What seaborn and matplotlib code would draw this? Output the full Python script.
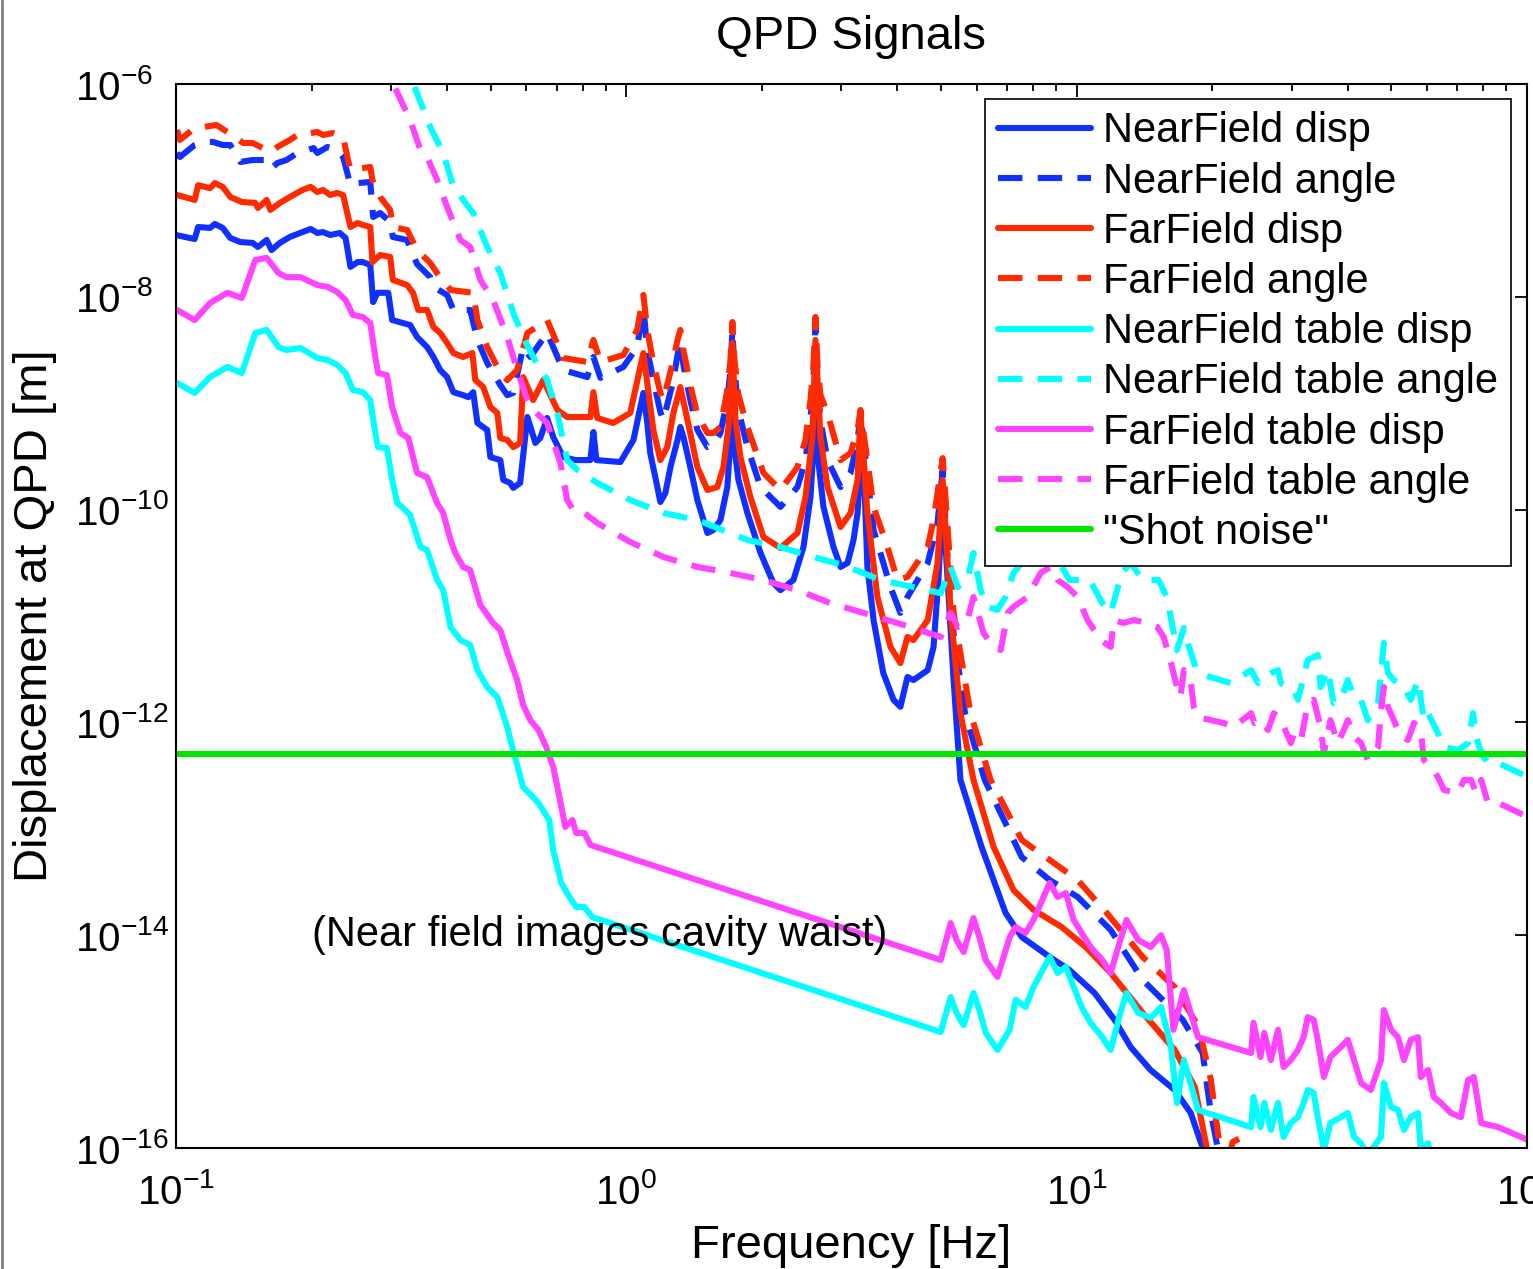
import numpy as np
import pandas as pd
import matplotlib
matplotlib.use("Agg")
import matplotlib.pyplot as plt
import seaborn as sns
from matplotlib.ticker import LogLocator, NullLocator, LogFormatterSciNotation, FixedLocator
from matplotlib.lines import Line2D

# ---------------- data ----------------
nf_disp_f = [0.100,0.110,0.112,0.119,0.122,0.127,0.132,0.139,0.148,0.152,0.159,0.163,0.170,0.179,0.191,0.199,0.206,0.212,0.220,0.231,0.238,0.244,0.253,0.260,0.270,0.274,0.280,0.296,0.302,0.319,0.331,0.343,0.361,0.373,0.386,0.400,0.413,0.434,0.446,0.457,0.467,0.491,0.499,0.525,0.533,0.552,0.561,0.581,0.603,0.628,0.644,0.667,0.688,0.724,0.771,0.832,0.845,0.858,0.970,1.037,
             1.091,1.113,1.130,1.172,1.190,1.221,1.253,1.299,1.318,1.339,1.387,1.438,1.514,1.561,1.618,1.676,1.703,1.720,1.729,1.774,1.857,1.986,2.121,2.199,2.350,2.474,2.564,2.604,2.630,2.657,2.740,2.884,2.990,3.099,3.195,3.262,3.345,
             3.43,3.54,3.72,3.92,4.06,4.21,4.34,4.67,4.81,4.93,5.04,5.17,5.33,5.52,6.15,6.95,7.55,8.71,9.64,10.96,12.14,13.18,14.59,16.51,17.92,19.05,19.86]
nf_disp_v = [3.81e-8,3.49e-8,4.53e-8,4.44e-8,4.83e-8,4.44e-8,3.57e-8,3.27e-8,3.21e-8,2.94e-8,3.42e-8,2.75e-8,3.21e-8,3.65e-8,4.06e-8,4.34e-8,3.98e-8,4.06e-8,3.81e-8,3.98e-8,3.57e-8,1.91e-8,2.12e-8,2.12e-8,1.99e-8,8.93e-9,1.09e-8,1.09e-8,6.05e-9,5.67e-9,5.43e-9,4.19e-9,3.37e-9,2.72e-9,2.05e-9,1.76e-9,1.27e-9,1.19e-9,1.14e-9,1.27e-9,6.52e-10,5.60e-10,3.12e-10,2.92e-10,1.90e-10,1.78e-10,1.60e-10,1.78e-10,7.41e-10,4.23e-10,4.71e-10,7.26e-10,4.81e-10,3.12e-10,2.92e-10,2.92e-10,5.36e-10,2.92e-10,2.80e-10,4.51e-10,
             1.25e-9,6.52e-10,3.40e-10,1.63e-10,1.18e-10,1.43e-10,2.51e-10,4.51e-10,5.97e-10,4.81e-10,2.51e-10,1.23e-10,6.03e-11,6.43e-11,7.98e-11,1.63e-10,4.51e-10,2.29e-9,4.51e-10,1.90e-10,9.29e-11,3.91e-11,2.04e-11,1.75e-11,2.18e-11,4.45e-11,1.31e-10,3.87e-10,2.29e-9,3.40e-10,1.06e-10,4.45e-11,2.89e-11,3.15e-11,5.18e-11,9.29e-11,5.60e-10,
             2.89e-11,9.16e-12,2.91e-12,1.63e-12,1.40e-12,2.67e-12,2.50e-12,3.10e-12,5.12e-12,2.18e-11,1.23e-10,2.18e-11,2.50e-12,2.88e-13,6.75e-14,1.62e-14,9.62e-15,6.24e-15,4.71e-15,2.86e-15,1.60e-15,8.89e-16,5.41e-16,3.51e-16,2.13e-16,1.00e-16,5.0e-17]

nf_angle_f = [0.1005,0.102,0.110,0.115,0.121,0.127,0.132,0.139,0.148,0.159,0.163,0.168,0.176,0.186,0.191,0.202,0.206,0.217,0.228,0.235,0.244,0.253,0.270,0.274,0.284,0.299,0.303,0.326,0.343,0.367,0.373,0.400,0.413,0.450,0.467,0.491,0.525,0.544,0.561,0.590,0.612,0.667,0.724,0.819,0.845,0.876,0.985,1.057,
              1.091,1.113,1.148,1.190,1.208,1.240,1.272,1.299,1.318,1.339,1.387,1.438,1.514,1.561,1.618,1.676,1.703,1.720,1.738,1.774,1.857,1.986,2.199,2.399,2.499,2.564,2.604,2.630,2.657,2.698,2.797,2.990,3.147,3.262,3.311,
              3.54,3.86,4.06,4.21,4.67,4.91,5.04,5.25,5.65,6.25,7.55,8.71,10.05,11.9,14.02,17.2,19.05,19.86,20.57,21.1]
nf_angle_v = [2.25e-7,2.06e-7,2.67e-7,2.85e-7,2.85e-7,2.67e-7,2.67e-7,1.85e-7,1.93e-7,1.93e-7,1.62e-7,1.81e-7,1.93e-7,2.25e-7,2.30e-7,2.50e-7,2.25e-7,2.56e-7,2.40e-7,2.06e-7,1.12e-7,1.17e-7,1.20e-7,5.62e-8,6.13e-8,5.05e-8,3.65e-8,3.42e-8,2.03e-8,1.53e-8,1.24e-8,1.04e-8,7.52e-9,7.52e-9,3.93e-9,2.39e-9,1.48e-9,1.19e-9,1.25e-9,3.37e-9,2.72e-9,4.57e-9,2.05e-9,1.76e-9,2.72e-9,1.73e-9,2.19e-9,3.37e-9,
              8.02e-9,3.16e-9,1.65e-9,8.26e-10,6.95e-10,1.07e-9,1.65e-9,2.84e-9,3.93e-9,2.29e-9,1.07e-9,5.60e-10,3.87e-10,4.05e-10,5.25e-10,1.07e-9,2.05e-9,4.88e-9,2.05e-9,8.63e-10,3.87e-10,1.63e-10,1.06e-10,1.63e-10,2.92e-10,6.95e-10,1.65e-9,5.79e-9,1.65e-9,6.95e-10,2.92e-10,1.63e-10,2.21e-10,4.51e-10,7.74e-10,
              6.43e-11,1.87e-11,1.07e-11,1.51e-11,3.15e-11,7.48e-11,2.36e-10,1.07e-11,1.22e-12,2.88e-13,5.43e-14,3.30e-14,2.29e-14,1.12e-14,3.79e-15,1.60e-15,7.82e-16,2.13e-16,1.0e-16,5.0e-17]

ff_disp_f = [0.1005,0.110,0.112,0.119,0.122,0.127,0.132,0.140,0.150,0.152,0.159,0.162,0.170,0.179,0.191,0.199,0.206,0.212,0.220,0.228,0.235,0.244,0.253,0.260,0.270,0.273,0.284,0.299,0.303,0.326,0.336,0.345,0.361,0.373,0.386,0.400,0.413,0.434,0.455,0.462,0.481,0.499,0.517,0.525,0.544,0.561,0.581,0.590,0.621,0.654,0.703,0.739,0.832,0.845,0.862,0.935,1.02,
             1.091,1.113,1.148,1.190,1.233,1.272,1.318,1.367,1.438,1.514,1.593,1.643,1.686,1.720,1.747,1.792,1.886,2.016,2.199,2.399,2.499,2.590,2.630,2.698,2.797,2.990,3.147,3.262,3.311,
             3.43,3.61,3.86,4.06,4.21,4.34,4.67,4.91,5.04,5.25,5.52,5.90,6.54,7.24,8.02,9.27,10.47,11.9,14.02,16.51,18.3,19.45,20.0]
ff_disp_v = [9.06e-8,8.13e-8,1.12e-7,1.05e-7,1.17e-7,1.08e-7,8.67e-8,7.78e-8,7.62e-8,6.84e-8,8.13e-8,6.55e-8,7.62e-8,8.67e-8,1.01e-7,1.08e-7,9.66e-8,1.01e-7,9.06e-8,9.46e-8,9.06e-8,4.53e-8,4.94e-8,4.73e-8,4.53e-8,2.12e-8,2.47e-8,2.37e-8,1.44e-8,1.29e-8,1.09e-8,7.52e-9,7.52e-9,5.20e-9,4.57e-9,3.68e-9,2.96e-9,2.72e-9,2.96e-9,1.65e-9,1.42e-9,9.20e-10,8.09e-10,4.71e-10,4.51e-10,3.87e-10,4.23e-10,1.76e-9,1.07e-9,1.65e-9,8.63e-10,7.41e-10,7.41e-10,1.27e-9,7.26e-10,6.52e-10,8.09e-10,
             2.96e-9,1.55e-9,5.60e-10,2.92e-10,3.87e-10,8.09e-10,1.42e-9,6.95e-10,2.51e-10,1.53e-10,1.63e-10,2.51e-10,5.97e-10,3.68e-9,6.95e-10,3.12e-10,1.31e-10,5.52e-11,4.36e-11,6.03e-11,1.31e-10,4.81e-10,3.93e-9,4.81e-10,1.63e-10,6.86e-11,9.29e-11,1.90e-10,8.09e-10,
             9.29e-11,1.51e-11,5.12e-12,3.61e-12,6.35e-12,5.94e-12,9.16e-12,3.15e-11,1.90e-10,1.07e-11,1.22e-12,2.88e-13,6.75e-14,2.66e-14,1.73e-14,1.19e-14,7.74e-15,4.42e-15,1.86e-15,8.34e-16,3.74e-16,1.0e-16,5.0e-17]

ff_angle_f = [0.1005,0.102,0.110,0.115,0.123,0.130,0.141,0.148,0.162,0.168,0.179,0.189,0.199,0.206,0.212,0.223,0.235,0.241,0.244,0.270,0.273,0.284,0.299,0.303,0.326,0.343,0.367,0.380,0.407,0.457,0.467,0.491,0.525,0.544,0.572,0.603,0.667,0.724,0.819,0.845,0.876,0.985,1.057,
              1.091,1.113,1.148,1.190,1.208,1.240,1.272,1.299,1.318,1.339,1.387,1.438,1.514,1.561,1.618,1.676,1.703,1.720,1.738,1.774,1.857,2.016,2.199,2.399,2.499,2.564,2.604,2.630,2.657,2.698,2.797,2.990,3.147,3.262,3.311,
              3.54,3.80,4.00,4.21,4.67,4.81,5.04,5.33,5.81,6.44,7.55,8.53,10.05,11.66,14.02,16.51,18.66,19.86,20.8,21.3,22.2,23.4,24.0]
ff_angle_v = [3.70e-7,2.98e-7,3.86e-7,3.94e-7,4.12e-7,3.54e-7,2.79e-7,2.79e-7,2.30e-7,2.56e-7,2.98e-7,3.46e-7,3.46e-7,3.54e-7,3.32e-7,3.46e-7,3.18e-7,1.93e-7,1.56e-7,1.66e-7,1.25e-7,8.67e-8,6.55e-8,4.53e-8,4.25e-8,2.75e-8,2.08e-8,1.67e-8,1.16e-8,1.09e-8,6.05e-9,3.37e-9,1.92e-9,1.65e-9,2.05e-9,4.57e-9,6.05e-9,2.66e-9,2.44e-9,3.93e-9,2.44e-9,2.84e-9,4.88e-9,
              1.04e-8,4.88e-9,2.39e-9,1.25e-9,1.07e-9,1.65e-9,2.55e-9,3.93e-9,4.88e-9,3.16e-9,1.48e-9,7.74e-10,5.25e-10,5.25e-10,5.97e-10,1.33e-9,2.55e-9,5.79e-9,2.55e-9,1.19e-9,5.97e-10,2.21e-10,1.53e-10,2.51e-10,4.51e-10,1.07e-9,2.29e-9,6.46e-9,2.29e-9,1.19e-9,8.09e-10,2.92e-10,3.40e-10,5.60e-10,8.63e-10,
              1.06e-10,4.45e-11,2.18e-11,2.33e-11,4.45e-11,7.98e-11,3.05e-10,1.07e-11,1.22e-12,2.88e-13,7.85e-14,5.43e-14,3.30e-14,1.62e-14,6.24e-15,3.26e-15,1.37e-15,4.36e-16,1.0e-16,5.5e-17,1.14e-16,1.27e-16,6.9e-17]

nft_disp_f = [0.1005,0.110,0.119,0.130,0.140,0.150,0.159,0.169,0.176,0.189,0.206,0.217,0.228,0.238,0.247,0.260,0.270,0.277,0.281,0.294,0.302,0.310,0.319,0.331,0.349,0.361,0.380,0.392,0.407,0.428,0.450,0.467,0.491,0.517,0.544,0.555,0.590,0.638,0.674,0.688,0.717,0.747,0.774,0.807,0.840,4.99,5.25,5.41,5.61,5.90,6.08,6.28,6.67,7.10,7.32,7.70,8.02,8.71,9.07,9.46,9.85,10.26,10.74,11.4,11.9,12.5,12.9,13.7,14.59,15.4,16.2,16.7,17.3,18.6,24.4,24.7,25.6,26.1,27.0,28.0,28.8,29.9,31.0,31.9,32.6,33.6,34.3,35.4,36.6,38.6,40.0,41.3,42.8,44.3,47.4,48.1,49.9,51.7,53.3,55.2,57.3,58.1,60.3,61.8]
nft_disp_v = [1.55e-9,1.25e-9,1.76e-9,2.19e-9,1.92e-9,4.57e-9,4.88e-9,3.37e-9,3.16e-9,3.30e-9,2.66e-9,2.55e-9,2.29e-9,1.92e-9,1.33e-9,1.27e-9,1.07e-9,5.25e-10,3.87e-10,3.79e-10,1.90e-10,1.15e-10,1.04e-10,8.89e-11,4.45e-11,4.17e-11,2.18e-11,1.75e-11,7.88e-12,5.94e-12,5.34e-12,3.10e-12,2.15e-12,1.73e-12,9.06e-13,6.40e-13,2.47e-13,1.75e-13,1.21e-13,6.32e-14,3.10e-14,2.29e-14,1.84e-14,1.84e-14,1.48e-14,1.23e-15,2.62e-15,1.86e-15,1.43e-15,2.86e-15,1.98e-15,1.21e-15,8.34e-16,1.29e-15,2.46e-15,2.11e-15,3.26e-15,6.24e-15,4.42e-15,5.03e-15,3.26e-15,2.11e-15,1.50e-15,1.10e-15,8.34e-16,1.86e-15,2.86e-15,1.86e-15,1.67e-15,2.11e-15,8.89e-16,2.65e-16,6.71e-16,2.28e-16,1.57e-16,3.01e-16,1.57e-16,2.65e-16,1.48e-16,2.65e-16,1.27e-16,1.72e-16,1.95e-16,2.65e-16,3.51e-16,3.29e-16,1.95e-16,9.6e-17,1.72e-16,1.95e-16,2.13e-16,1.27e-16,1.11e-16,8.6e-17,1.27e-16,4.08e-16,2.43e-16,2.28e-16,1.48e-16,1.95e-16,2.13e-16,9.6e-17,1.11e-16,6.2e-17]

nft_angle_f = [0.315,0.336,0.367,0.392,0.413,0.457,0.491,0.525,0.561,0.590,0.621,0.667,0.703,0.739,0.778,0.862,1.02,1.208,1.439,1.857,2.20,2.60,3.03,3.67,4.34,4.99,5.25,5.44,5.72,5.90,6.12,6.34,6.67,6.95,7.24,7.55,8.11,8.75,9.27,9.64,10.7,11.4,11.9,12.6,13.18,14.02,15.2,15.85,16.3,16.7,17.3,17.7,18.4,19.1,22.0,24.4,25.3,26.1,27.0,28.0,28.4,30.4,31.0,32.6,34.3,34.8,36.1,37.2,38.6,40.0,41.3,42.8,44.3,46.7,48.1,49.1,50.6,53.3,55.2,57.3,59.0,60.3,63.4,65.4,70.3,74.0,75.9,77.1,79.1,81.9,86.3,100.5]
nft_angle_v = [2.09e-6,1.02e-6,3.94e-7,2.25e-7,1.08e-7,6.13e-8,2.94e-8,1.67e-8,7.05e-9,4.19e-9,2.72e-9,1.65e-9,8.09e-10,2.92e-10,2.36e-10,1.78e-10,1.23e-10,9.29e-11,7.98e-11,5.18e-11,4.45e-11,3.59e-11,3.01e-11,2.18e-11,1.87e-11,1.64e-11,2.89e-11,1.87e-11,2.18e-11,3.91e-11,1.75e-11,1.22e-11,1.14e-11,1.51e-11,2.54e-11,3.15e-11,4.36e-11,4.36e-11,2.89e-11,2.18e-11,2.18e-11,1.32e-11,1.07e-11,2.54e-11,3.15e-11,2.18e-11,2.18e-11,1.51e-11,8.23e-12,4.79e-12,7.71e-12,5.34e-12,3.24e-12,2.79e-12,2.34e-12,3.10e-12,2.34e-12,2.67e-12,2.91e-12,3.10e-12,2.34e-12,2.02e-12,1.63e-12,3.86e-12,4.30e-12,2.15e-12,3.10e-12,1.52e-12,1.63e-12,2.50e-12,1.73e-12,1.63e-12,1.05e-12,1.52e-12,5.57e-12,2.91e-12,2.50e-12,2.15e-12,1.63e-12,2.50e-12,1.05e-12,1.22e-12,7.94e-13,5.87e-13,5.50e-13,6.40e-13,1.22e-12,7.30e-13,5.15e-13,4.15e-13,4.15e-13,3.07e-13]

fft_disp_f = [0.1005,0.110,0.119,0.130,0.140,0.150,0.159,0.169,0.176,0.189,0.206,0.217,0.228,0.238,0.247,0.260,0.270,0.277,0.281,0.294,0.302,0.315,0.328,0.343,0.361,0.380,0.392,0.407,0.417,0.434,0.450,0.474,0.506,0.525,0.544,0.572,0.590,0.612,0.638,0.664,0.688,0.703,0.732,0.759,0.774,0.807,0.832,4.99,5.25,5.41,5.61,5.90,6.08,6.28,6.67,7.10,7.32,7.70,8.02,8.71,9.07,9.46,9.85,10.26,10.74,11.4,11.9,12.5,12.9,13.7,14.59,15.4,15.85,16.4,17.3,18.6,24.4,24.7,25.6,26.1,27.0,28.0,28.8,29.9,31.0,31.9,32.6,33.6,34.3,35.4,36.6,38.6,40.0,41.3,42.8,45.0,47.4,48.1,49.9,51.7,53.3,55.2,57.3,58.1,60.3,62.1,64.4,67.8,71.3,74.0,76.2,79.1,86.3,100.5]
fft_disp_v = [7.52e-9,6.05e-9,8.75e-9,1.09e-8,9.75e-9,2.22e-8,2.32e-8,1.67e-8,1.53e-8,1.53e-8,1.29e-8,1.24e-8,1.11e-8,9.33e-9,6.75e-9,6.46e-9,5.67e-9,2.72e-9,1.92e-9,1.84e-9,9.20e-10,5.25e-10,4.71e-10,2.21e-10,2.02e-10,1.15e-10,9.29e-11,5.18e-11,3.91e-11,2.89e-11,2.70e-11,1.27e-11,8.59e-12,7.38e-12,4.59e-12,2.50e-12,1.46e-12,1.05e-12,8.49e-13,5.87e-13,3.81e-13,2.47e-13,1.04e-13,1.21e-13,9.14e-14,9.14e-14,7.05e-14,5.85e-15,1.30e-14,9.02e-15,6.95e-15,1.45e-14,9.62e-15,5.85e-15,4.05e-15,9.62e-15,1.19e-14,1.05e-14,1.39e-14,3.10e-14,2.29e-14,2.49e-14,1.39e-14,1.05e-14,7.74e-15,5.85e-15,4.42e-15,9.02e-15,1.39e-14,9.02e-15,7.74e-15,1.00e-14,7.26e-15,1.29e-15,3.05e-15,1.10e-15,7.82e-16,1.50e-15,7.16e-16,1.21e-15,6.71e-16,1.29e-15,5.77e-16,6.71e-16,8.34e-16,1.10e-15,1.70e-15,1.60e-15,1.04e-15,4.65e-16,7.16e-16,8.89e-16,1.04e-15,6.71e-16,4.08e-16,3.51e-16,6.71e-16,1.98e-15,1.29e-15,1.10e-15,6.71e-16,1.04e-15,1.10e-15,4.65e-16,5.41e-16,3.01e-16,2.65e-16,2.13e-16,1.95e-16,4.36e-16,4.65e-16,1.72e-16,1.57e-16,1.19e-16]

fft_angle_f = [0.284,0.303,0.331,0.349,0.361,0.380,0.400,0.428,0.450,0.474,0.506,0.544,0.572,0.603,0.621,0.667,0.714,0.739,0.762,0.791,0.862,1.02,1.208,1.439,1.70,2.01,2.40,2.84,3.36,4.00,4.99,5.25,5.44,5.72,5.90,6.21,6.54,6.78,7.03,7.24,7.78,8.32,8.75,9.07,9.55,10.05,10.57,11.3,11.9,12.1,12.7,13.4,14.4,15.1,15.6,16.2,16.7,17.0,17.3,17.9,18.2,18.6,21.2,22.3,24.4,24.8,25.6,26.6,27.4,28.4,29.9,30.4,31.5,32.6,33.6,34.8,35.4,36.6,38.0,39.2,40.0,41.3,42.8,44.3,46.7,47.4,48.1,49.1,50.6,52.5,54.4,56.1,58.1,59.0,61.2,63.4,65.4,70.3,72.4,75.1,77.1,79.1,81.9,86.3,100.5]
fft_angle_v = [2.00e-6,1.02e-6,4.59e-7,2.40e-7,2.06e-7,1.25e-7,6.98e-8,3.42e-8,2.94e-8,1.44e-8,9.33e-9,4.19e-9,2.05e-9,1.07e-9,8.63e-10,6.52e-10,2.74e-10,1.23e-10,9.91e-11,9.91e-11,7.48e-11,4.96e-11,3.59e-11,2.89e-11,2.54e-11,2.18e-11,1.75e-11,1.32e-11,1.07e-11,8.59e-12,6.35e-12,1.07e-11,7.88e-12,9.16e-12,1.51e-11,6.92e-12,5.12e-12,4.79e-12,1.07e-11,1.22e-11,1.51e-11,2.54e-11,2.89e-11,2.18e-11,1.87e-11,1.51e-11,9.16e-12,5.94e-12,5.12e-12,9.16e-12,8.59e-12,9.16e-12,8.59e-12,7.88e-12,6.35e-12,3.61e-12,2.15e-12,1.73e-12,3.10e-12,2.50e-12,1.40e-12,1.12e-12,9.87e-13,9.06e-13,1.22e-12,9.87e-13,1.05e-12,8.49e-13,1.22e-12,1.05e-12,6.40e-13,7.94e-13,6.84e-13,1.52e-12,1.63e-12,9.06e-13,5.15e-13,1.05e-12,6.40e-13,8.49e-13,1.05e-12,7.30e-13,6.40e-13,4.44e-13,5.87e-13,1.31e-12,2.15e-12,1.40e-12,1.05e-12,7.30e-13,6.84e-13,9.87e-13,8.49e-13,4.44e-13,3.81e-13,3.07e-13,2.32e-13,2.17e-13,2.88e-13,2.88e-13,2.17e-13,2.88e-13,1.75e-13,1.75e-13,1.29e-13]

shot_f = [0.1, 100.0]
shot_v = [5.0e-13, 5.0e-13]

labels = ["NearField disp", "NearField angle", "FarField disp", "FarField angle",
          "NearField table disp", "NearField table angle", "FarField table disp",
          "FarField table angle", '"Shot noise"']
annotation = "(Near field images cavity waist)"

# ---------------- style ----------------
sns.set_theme(style="white")
plt.rcParams["font.family"] = ["Liberation Sans", "DejaVu Sans"]
plt.rcParams.update({
    "mathtext.fontset": "custom",
    "mathtext.rm": "Liberation Sans",
    "mathtext.default": "regular",
    "axes.edgecolor": "black",
    "axes.linewidth": 1.5,
    "text.color": "black",
    "axes.labelcolor": "black",
    "xtick.color": "black",
    "ytick.color": "black",
})

BLUE = "#1030ff"
RED = "#ff2a00"
CYAN = "#00ffff"
MAG = "#ff44ff"
GREEN = "#00e600"
DASH = (0, (4, 2.5))
LW = 4.4

fig = plt.figure(figsize=(15.33, 12.69), dpi=100)
fig.patch.set_facecolor("white")
ax = fig.add_axes([176 / 1533, 1 - 1148 / 1269, (1527 - 176) / 1533, (1148 - 84) / 1269])
ax.set_xscale("log")
ax.set_yscale("log")

series = [
    (labels[0], nf_disp_f, nf_disp_v, BLUE, "-"),
    (labels[1], nf_angle_f, nf_angle_v, BLUE, DASH),
    (labels[2], ff_disp_f, ff_disp_v, RED, "-"),
    (labels[3], ff_angle_f, ff_angle_v, RED, DASH),
    (labels[4], nft_disp_f, nft_disp_v, CYAN, "-"),
    (labels[5], nft_angle_f, nft_angle_v, CYAN, DASH),
    (labels[6], fft_disp_f, fft_disp_v, MAG, "-"),
    (labels[7], fft_angle_f, fft_angle_v, MAG, DASH),
    (labels[8], shot_f, shot_v, GREEN, "-"),
]

for lab, f, v, col, ls in series:
    df = pd.DataFrame({"Frequency": f, "Displacement": v})
    sns.lineplot(data=df, x="Frequency", y="Displacement", ax=ax, color=col,
                 linewidth=LW, linestyle=ls, label=lab, sort=False, estimator=None)

ax.set_xlim(0.1, 100)
ax.set_ylim(1e-16, 1e-6)

ax.xaxis.set_major_locator(LogLocator(base=10, numticks=10))
ax.xaxis.set_minor_locator(LogLocator(base=10, subs=np.arange(2, 10), numticks=100))
ax.xaxis.set_major_formatter(LogFormatterSciNotation())
ax.yaxis.set_major_locator(FixedLocator([1e-16, 1e-14, 1e-12, 1e-10, 1e-8, 1e-6]))
ax.yaxis.set_minor_locator(NullLocator())
ax.yaxis.set_major_formatter(LogFormatterSciNotation())

ax.tick_params(which="both", direction="in", top=True, right=True, width=1.3, labelsize=29)
ax.tick_params(which="major", length=9)
ax.tick_params(which="minor", length=5)
ax.tick_params(axis="x", which="major", pad=18)
ax.tick_params(axis="y", which="major", pad=72.5)
for t in ax.yaxis.get_majorticklabels():
    t.set_horizontalalignment("left")

ax.set_title("QPD Signals", fontsize=34, pad=25)
ax.set_xlabel("Frequency [Hz]", fontsize=34)
ax.set_ylabel("Displacement at QPD [m]", fontsize=34)
ax.xaxis.set_label_coords(0.5, -0.071)
ax.yaxis.set_label_coords(-0.088, 0.5)

ax.text(0.2, 1e-14, annotation, fontsize=30, ha="left", va="center", zorder=6)

leg = ax.legend(loc="upper right", bbox_to_anchor=(0.988, 0.986), borderaxespad=0,
                fontsize=30, frameon=True, fancybox=False, edgecolor="black",
                framealpha=1, handlelength=2.23, handletextpad=0.3,
                labelspacing=0.245, borderpad=0.3)
leg.get_frame().set_linewidth(1.2)
leg.set_zorder(10)

fig.add_artist(Line2D([0.0012, 0.0012], [0, 1], transform=fig.transFigure,
                      color="#808080", lw=2))

fig.savefig("out.png", dpi=100, facecolor="white")
